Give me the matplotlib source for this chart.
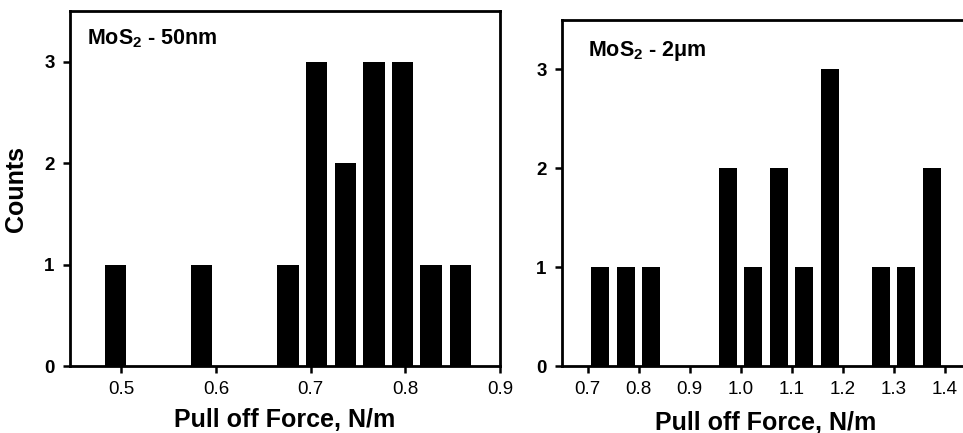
import matplotlib.pyplot as plt

plt.rcParams["font.family"] = ["Liberation Sans", "DejaVu Sans"]
plt.rcParams["mathtext.fontset"] = "custom"
plt.rcParams["mathtext.rm"] = "Liberation Sans:bold"
plt.rcParams["mathtext.bf"] = "Liberation Sans:bold"

# histogram bins (centres) and counts, MoS2 50 nm
centers_50nm = [0.494, 0.585, 0.676, 0.706, 0.737, 0.767, 0.797, 0.827, 0.858]
counts_50nm = [1, 1, 1, 3, 2, 3, 3, 1, 1]

# MoS2 2 um
centers_2um = [0.725, 0.775, 0.825, 0.875, 0.925, 0.975, 1.025, 1.075, 1.125,
               1.175, 1.225, 1.275, 1.325, 1.375]
counts_2um = [1, 1, 1, 0, 0, 2, 1, 2, 1, 3, 0, 1, 1, 2]

xticks_50nm = [0.5, 0.6, 0.7, 0.8, 0.9]
xticks_2um = [0.7, 0.8, 0.9, 1.0, 1.1, 1.2, 1.3, 1.4]
yticks = [0, 1, 2, 3]

fig = plt.figure(figsize=(9.63, 4.33), dpi=100)
ax1 = fig.add_axes([0.0727, 0.1547, 0.4466, 0.8199])
ax2 = fig.add_axes([0.5836, 0.1547, 0.4237, 0.7991])


def style(ax, xticks, xlim):
    ax.set_xlim(*xlim)
    ax.set_ylim(0, 3.5)
    ax.set_xticks(xticks)
    ax.set_xticklabels([f"{t:.1f}" for t in xticks], fontsize=13.5)
    ax.set_yticks(yticks)
    ax.set_yticklabels([str(t) for t in yticks], fontsize=13.5, fontweight="bold")
    ax.tick_params(direction="out", length=5, width=1.8, pad=6)
    for s in ax.spines.values():
        s.set_linewidth(2)


ax1.bar(centers_50nm, counts_50nm, width=0.0225, color="black")
style(ax1, xticks_50nm, (0.446, 0.9))
ax1.set_xlabel("Pull off Force, N/m", fontsize=18, fontweight="bold", labelpad=7)
ax1.set_ylabel("Counts", fontsize=18, fontweight="bold", labelpad=12)
ax1.text(0.04, 0.955, r"MoS$_{2}$ - 50nm", transform=ax1.transAxes,
         fontsize=15.5, fontweight="bold", va="top", ha="left")

ax2.bar(centers_2um, counts_2um, width=0.035, color="black")
style(ax2, xticks_2um, (0.65, 1.45))
ax2.set_xlabel("Pull off Force, N/m", fontsize=18, fontweight="bold", labelpad=9)
ax2.text(0.064, 0.945, "MoS$_{2}$ - 2\u03bcm", transform=ax2.transAxes,
         fontsize=15.5, fontweight="bold", va="top", ha="left")

fig.savefig("out.png", dpi=100)
